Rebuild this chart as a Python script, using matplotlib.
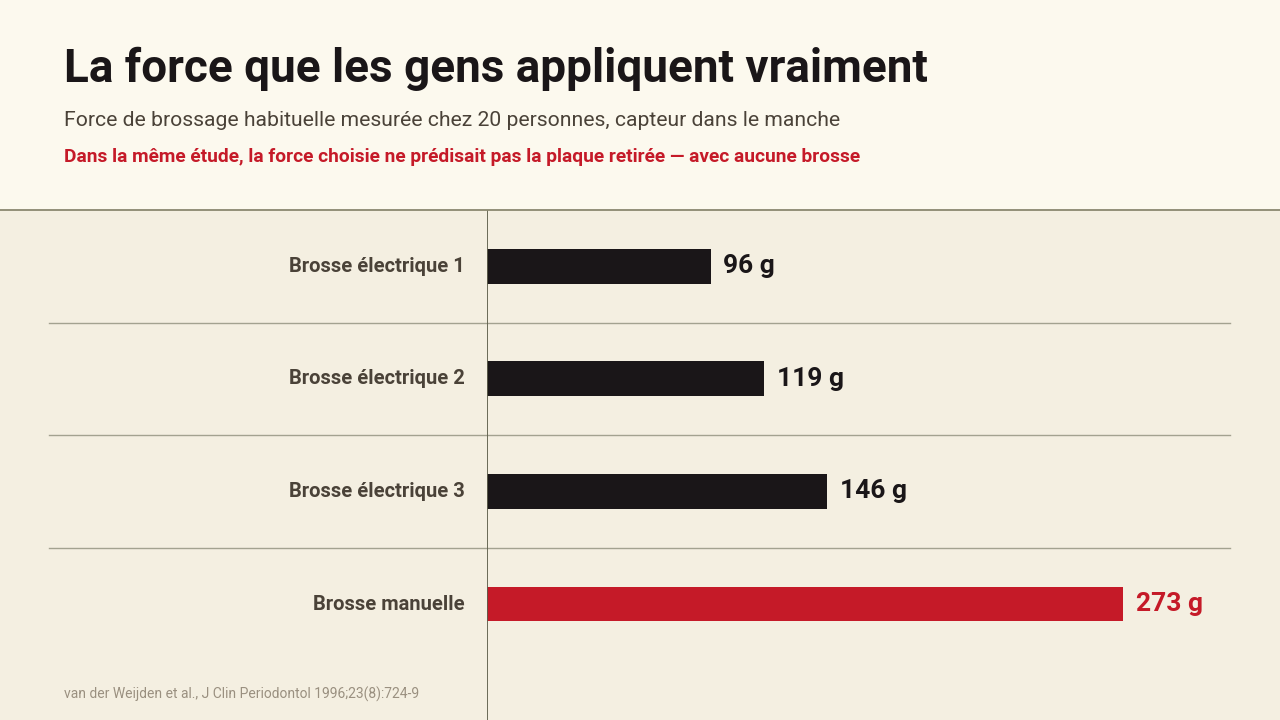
import matplotlib.pyplot as plt
from matplotlib.patches import Rectangle

plt.rcParams['font.family'] = ['Roboto', 'DejaVu Sans']

categories = ['Brosse électrique 1', 'Brosse électrique 2', 'Brosse électrique 3', 'Brosse manuelle']
force_g = [96, 119, 146, 273]
highlight = [False, False, False, True]

title = 'La force que les gens appliquent vraiment'
subtitle = 'Force de brossage habituelle mesurée chez 20 personnes, capteur dans le manche'
note = 'Dans la même étude, la force choisie ne prédisait pas la plaque retirée — avec aucune brosse'
source = 'van der Weijden et al., J Clin Periodontol 1996;23(8):724-9'

dark = '#1a1618'
red = '#c51a28'
label_col = '#4a4238'

fig = plt.figure(figsize=(12.8, 7.2), dpi=100)
fig.patch.set_facecolor('#f4efe1')
# header band
fig.patches.append(Rectangle((0, 1 - 210 / 720), 1, 210 / 720, transform=fig.transFigure,
                             facecolor='#fcf9ee', edgecolor='none', zorder=0))
fig.lines.append(plt.Line2D([0, 1], [1 - 210 / 720] * 2, transform=fig.transFigure,
                            color='#8a8770', lw=1.3, zorder=1))

fig.text(64 / 1280, 1 - 69 / 720, title, fontsize=33, fontweight='bold', color=dark, va='center')
fig.text(64 / 1280, 1 - 120 / 720, subtitle, fontsize=15.2, color=label_col, va='center')
fig.text(64 / 1280, 1 - 157 / 720, note, fontsize=13.8, fontweight='bold', color=red, va='center')
fig.text(64 / 1280, 1 - 694 / 720, source, fontsize=10, color='#9a9080', va='center')

ax = fig.add_axes([487 / 1280, 0, (1230 - 487) / 1280, 510 / 720])
ax.set_facecolor('none')
ypos = list(range(len(categories)))
colors = [red if h else dark for h in highlight]
ax.barh(ypos, force_g, height=0.31, color=colors, zorder=3)
ax.set_xlim(0, 319)
ax.set_ylim(4.03, -0.5)

for y, v, c, name in zip(ypos, force_g, colors, categories):
    ax.text(v + 5.5, y, f'{v} g', fontsize=19, fontweight='bold', color=c, va='center', ha='left')
    ax.text(-9.5, y, name, fontsize=14.5, fontweight='semibold', color=label_col, va='center', ha='right')

# row separators stretching into the label area
for y in [0.5, 1.5, 2.5]:
    ax.plot([-188, 319], [y, y], color='#a3a290', lw=1.0, clip_on=False, zorder=1)
ax.axvline(0, color='#5f5f4c', lw=1.3, zorder=4)

ax.set_xticks([])
ax.set_yticks([])
for s in ax.spines.values():
    s.set_visible(False)

fig.savefig('out.png', dpi=100, facecolor=fig.get_facecolor())
